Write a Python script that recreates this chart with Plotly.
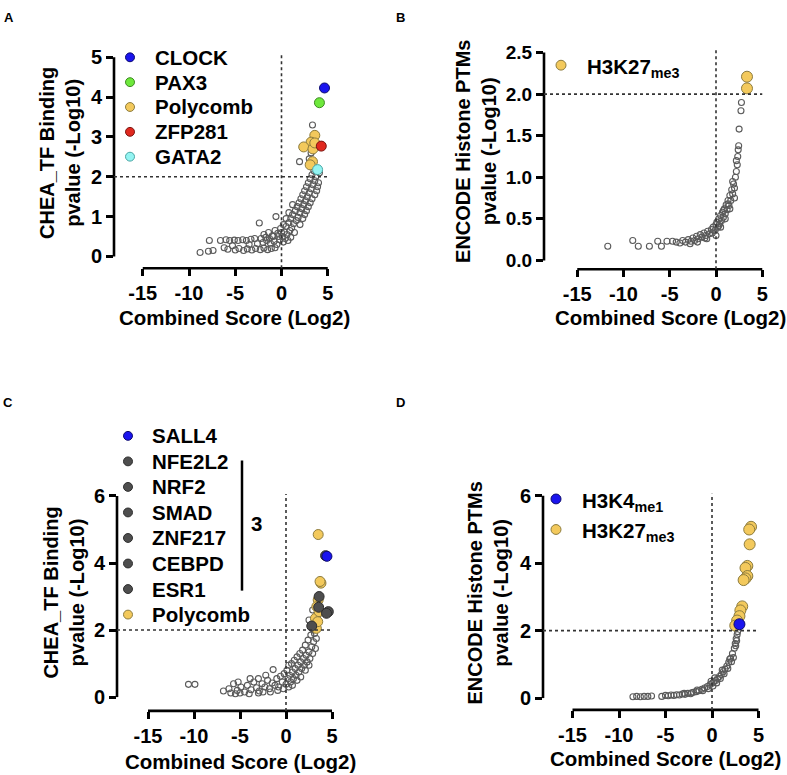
import plotly.graph_objects as go

W, H = 787, 775
FONT = "Liberation Sans, Arial, Helvetica, sans-serif"

# ---------------- DATA ----------------
# Panel A : CHEA TF binding
a_grey_x = [-8.8, -7.9, -7.4, -7.8, -6.6, -6.0, -5.6, -5.1, -4.7, -4.2, -3.8, -3.3, -2.9,
            -6.2, -5.8, -5.3, -5.0, -4.6, -4.1, -3.7, -3.2, -2.8, -2.3, -1.9, -1.5, -1.1, -0.7,
            -3.5, -2.6, -2.0, -1.6, -1.2, -0.8, -0.5, -0.2,
            -2.4, -0.6, -1.9, -1.4, -1.0, -0.7, -0.4, -0.1, 0.1, 0.2,
            -2.2, -1.7, -1.3, -0.9, -0.3,
            0.3, 0.5, 0.6, 0.8, 0.9, 1.0, 1.1, 1.2, 1.3, 1.4, 1.5, 1.6, 1.7, 1.8, 1.9, 2.0, 2.0,
            2.1, 2.2, 2.3, 2.3, 2.4, 2.5, 2.5, 2.6, 2.7, 2.7, 2.8, 2.9, 2.9, 3.0, 3.1, 3.1, 3.2,
            3.3, 3.3, 3.4, 3.5, 3.6, 3.6, 3.7, 3.8, 3.9, 4.0, 4.1,
            0.4, 0.7, 1.0, 0.0, 0.2, 0.5, 0.8, 1.2,
            1.95, 3.35, 3.0, 3.2]
a_grey_y = [0.10, 0.13, 0.15, 0.40, 0.40, 0.42, 0.40, 0.41, 0.40, 0.42, 0.40, 0.43, 0.45,
            0.22, 0.18, 0.27, 0.16, 0.20, 0.15, 0.19, 0.16, 0.20, 0.17, 0.21, 0.17, 0.20, 0.22,
            0.30, 0.32, 0.35, 0.40, 0.33, 0.38, 0.30, 0.42,
            0.84, 1.00, 0.55, 0.60, 0.52, 0.65, 0.58, 0.70, 0.50, 0.36,
            0.45, 0.48, 0.45, 0.50, 0.50,
            0.62, 0.75, 0.55, 0.85, 0.65, 0.95, 0.72, 1.05, 0.82, 0.60, 1.15, 0.90, 1.25, 0.98, 1.35, 1.10, 0.80,
            1.45, 1.20, 1.55, 0.95, 1.30, 1.65, 1.05, 1.40, 1.75, 1.15, 1.50, 1.85, 1.25, 1.60, 1.95, 1.35, 1.70,
            2.05, 1.45, 1.80, 2.15, 1.55, 1.90, 2.00, 1.65, 1.75, 1.85, 2.10,
            0.45, 0.40, 0.48, 0.60, 0.80, 0.95, 1.10, 1.30,
            2.38, 3.30, 2.45, 2.60]
a_polycomb_x = [3.6, 3.2, 2.4, 3.4, 3.35, 3.1, 3.6]
a_polycomb_y = [3.04, 2.87, 2.75, 2.70, 2.38, 2.30, 2.85]
a_clock = (4.65, 4.23)
a_pax3 = (4.1, 3.86)
a_zfp281 = (4.3, 2.77)
a_gata2 = (3.9, 2.18)

# Panel B : ENCODE histone PTMs
b_grey_x = [-11.7, -9.0, -8.4, -7.2, -6.3, -5.9, -5.3, -4.7,
            -4.3, -3.9, -3.6, -3.3, -3.0, -2.7, -2.5, -2.3, -2.1, -1.9, -1.7, -1.5, -1.3, -1.1,
            -0.9, -0.7, -0.5, -0.3, -0.1, 0.0, 0.1, 0.2, 0.3, 0.4, 0.5, 0.6, 0.7, 0.8, 0.9, 1.0,
            1.1, 1.2, 1.3, 1.4, 1.5, 1.6, 1.7, 1.8, 1.9, 2.0, 2.1, 2.2, 2.3, 2.35, 2.4, 2.45,
            2.5, 2.7, 2.75,
            -2.8, -1.2, 0.0, -0.4, 0.5, 1.0, 1.5, 2.0, -2.0, -1.0, 0.3, 0.8, 1.3, 1.8, 2.2]
b_grey_y = [0.17, 0.24, 0.17, 0.17, 0.23, 0.17, 0.23, 0.23,
            0.22, 0.21, 0.24, 0.22, 0.25, 0.23, 0.27, 0.24, 0.29, 0.26, 0.31, 0.28, 0.33, 0.30,
            0.35, 0.32, 0.37, 0.40, 0.36, 0.43, 0.46, 0.40, 0.50, 0.44, 0.54, 0.48, 0.58, 0.52, 0.62, 0.56,
            0.67, 0.61, 0.72, 0.66, 0.78, 0.72, 0.85, 0.80, 0.92, 0.87, 1.00, 1.07, 1.15, 1.25, 1.33, 1.38,
            1.58, 1.80, 1.90,
            0.20, 0.27, 0.30, 0.33, 0.40, 0.50, 0.62, 0.75, 0.22, 0.26, 0.42, 0.60, 0.68, 0.95, 1.20]
b_h3k27_x = [3.35, 3.35]
b_h3k27_y = [2.21, 2.07]

# Panel C : CHEA TF binding (second set)
c_grey_x = [-10.6, -9.9, -6.8, -6.2, -5.7, -5.3, -4.9, -4.5, -4.2, -3.8, -3.5, -3.2, -2.9, -2.6,
            -2.3, -2.0, -1.8, -1.5, -1.4, -1.2, -1.0, -0.8, -0.6, -0.4, -0.2, 0.0, 0.1, 0.2, 0.3,
            0.4, 0.5, 0.6, 0.7, 0.8, 0.9, 1.0, 1.1, 1.2, 1.3, 1.4, 1.5, 1.6, 1.7, 1.8, 1.9, 2.0,
            2.1, 2.2, 2.3, 2.4, 2.5, 2.6, 2.7, 2.8, 2.9, 3.0, 3.1, 3.2, 2.5, 2.9, 3.0, 3.3,
            -6.0, -5.5, -5.0, -4.0, -3.0, -2.5, -1.7, -0.9, -0.3, 0.3, -3.9, -3.0, -2.2, -5.2,
            0.7, 1.2, 1.6, 2.1, 2.5]
c_grey_y = [0.38, 0.38, 0.18, 0.25, 0.40, 0.20, 0.30, 0.15, 0.35, 0.22, 0.45, 0.28, 0.18, 0.40,
            0.30, 0.50, 0.25, 0.42, 0.82, 0.35, 0.55, 0.30, 0.62, 0.45, 0.70, 0.38, 0.80, 0.55, 0.95,
            0.65, 0.45, 1.00, 0.75, 0.55, 1.10, 0.85, 0.65, 1.20, 0.95, 0.75, 1.30, 1.05, 0.85, 1.40, 1.15, 0.95,
            1.55, 1.25, 1.05, 1.70, 1.35, 1.15, 1.85, 1.50, 1.30, 1.65, 1.90, 1.45, 2.30, 2.60, 2.00, 1.75,
            0.12, 0.10, 0.12, 0.10, 0.12, 0.15, 0.15, 0.20, 0.25, 0.30, 0.55, 0.55, 0.65, 0.45,
            0.35, 0.50, 0.60, 0.80, 0.95]
c_polycomb_x = [3.5, 3.8, 3.5, 3.35, 3.2, 3.3, 3.7, 3.6, 3.45]
c_polycomb_y = [4.85, 3.40, 2.90, 2.70, 2.35, 2.05, 3.45, 2.55, 2.25]
c_group3_x = [4.3, 3.6, 4.6, 4.4, 3.55, 2.8]
c_group3_y = [4.22, 3.00, 2.55, 2.50, 2.68, 2.12]
c_sall4 = (4.45, 4.20)

# Panel D : ENCODE histone PTMs (second set)
d_grey_x = [-8.5, -8.1, -7.7, -7.3, -6.9, -6.5, -5.4, -5.0, -4.7, -4.4, -4.1, -3.8, -3.5, -3.2,
            -2.9, -2.6, -2.3, -2.0, -1.7, -1.4, -1.1, -0.8, -0.5, -0.2, 0.0, 0.2, 0.4, 0.6, 0.8,
            1.0, 1.2, 1.4, 1.6, 1.8, 2.0, 2.2, 2.4, 2.5, 2.6, 2.7, 2.75,
            -3.0, -2.2, -1.6, -1.0, -0.4, 0.1, 0.5, 0.9, 1.3, 1.7, 2.1, 2.3, 0.3, -0.1, 1.1, 1.9,
            2.55, 2.65]
d_grey_y = [0.04, 0.05, 0.04, 0.05, 0.05, 0.06, 0.05, 0.08, 0.07, 0.09, 0.08, 0.10, 0.09, 0.12,
            0.11, 0.14, 0.13, 0.17, 0.19, 0.22, 0.26, 0.30, 0.34, 0.40, 0.44, 0.49, 0.52, 0.58, 0.64,
            0.70, 0.78, 0.86, 0.95, 1.06, 1.18, 1.32, 1.48, 1.62, 1.76, 1.88, 1.97,
            0.14, 0.16, 0.24, 0.22, 0.28, 0.36, 0.45, 0.58, 0.72, 0.88, 1.08, 1.20, 0.60, 0.50, 0.83, 1.15,
            1.55, 1.70]
d_h3k27_x = [4.2, 4.0, 4.05, 3.8, 3.6, 3.8, 3.6, 3.4, 3.25, 3.05, 2.95, 2.7, 2.5]
d_h3k27_y = [5.08, 5.00, 4.56, 3.92, 3.86, 3.62, 3.55, 3.50, 2.72, 2.60, 2.43, 2.30, 2.15]
d_h3k4 = (2.95, 2.19)

x_ticks = [-15, -10, -5, 0, 5]
x_ticktext = ["-15", "-10", "-5", "0", "5"]
a_yticks = [0, 1, 2, 3, 4, 5]
b_yticks = [0.0, 0.5, 1.0, 1.5, 2.0, 2.5]
cd_yticks = [0, 2, 4, 6]

# colours
GREY_EDGE = "#5a5a5a"
GOLD, GOLD_E = "#f3c95c", "#8d7c3e"
BLUE, BLUE_E = "#1a14ee", "#0c0a70"
GREEN, GREEN_E = "#6ee83c", "#3d8a22"
RED, RED_E = "#e0281e", "#7a1510"
CYAN, CYAN_E = "#93f4f2", "#4aa6a4"
DARK, DARK_E = "#4e4e4e", "#2e2e2e"

# ---------------- LAYOUT GEOMETRY (pixels) ----------------
# (zero px x, px per x unit, y-axis px, right value, zero px y, px per y unit, x-axis px, top value)
geom = {
    1: (281.5, 9.25, 114, 5.6, 251, 40.4, 263, 5.12),
    2: (716.0, 9.25, 544, 5.6, 255, 84.3, 264, 2.53),
    3: (286.0, 9.20, 117, 5.6, 698, 34.0, 712, 6.06),
    4: (712.0, 9.30, 543, 5.6, 699, 34.2, 711, 6.06),
}
ytop = {1: 5, 2: 2.5, 3: 6, 4: 6}

fig = go.Figure()
layout = dict(width=W, height=H, margin=dict(l=0, r=0, t=0, b=0),
              paper_bgcolor="white", plot_bgcolor="white", showlegend=False)
shapes, annotations = [], []

def px(x):
    return x / W

def py(y):
    return 1 - y / H

for i, (x0p, ppx, yax, rv, y0p, ppy, xax, tv) in geom.items():
    xl = (yax - x0p) / ppx
    xr_px = x0p + rv * ppx
    yb = -(xax - y0p) / ppy
    yt_px = y0p - tv * ppy
    sx = "" if i == 1 else str(i)
    yticks = a_yticks if i == 1 else (b_yticks if i == 2 else cd_yticks)
    ytext = [f"{v:.1f}" for v in yticks] if i == 2 else [str(v) for v in yticks]
    layout["xaxis" + sx] = dict(domain=[px(yax), px(xr_px)], range=[xl, rv],
                                anchor="y" + sx, showgrid=False, zeroline=False, showline=False,
                                tickvals=x_ticks, ticktext=x_ticktext, ticks="outside",
                                ticklen=7, tickwidth=2.5, tickcolor="black",
                                tickfont=dict(family=FONT, size=20, color="black", weight="bold"))
    layout["yaxis" + sx] = dict(domain=[py(xax), py(yt_px)], range=[yb, tv],
                                anchor="x" + sx, showgrid=False, zeroline=False, showline=False,
                                tickvals=yticks, ticktext=ytext, ticks="outside",
                                ticklen=7, tickwidth=2.5, tickcolor="black",
                                tickfont=dict(family=FONT, size=19 if i == 2 else 20,
                                              color="black", weight="bold"))
    xr, yr = "x" + sx, "y" + sx
    # axis lines (Prism style, offset)
    shapes.append(dict(type="line", xref=xr + " domain", yref=yr, x0=0, x1=0, y0=0, y1=ytop[i],
                       line=dict(color="black", width=2.6)))
    shapes.append(dict(type="line", xref=xr, yref=yr + " domain", x0=-15, x1=5, y0=0, y1=0,
                       line=dict(color="black", width=2.6)))
    # dotted guides
    shapes.append(dict(type="line", xref=xr, yref=yr + " domain", x0=0, x1=0, y0=0, y1=1,
                       line=dict(color="#333", width=1.6, dash="dot")))
    shapes.append(dict(type="line", xref=xr + " domain", yref=yr, x0=0, x1=(5 - xl) / (rv - xl),
                       y0=2, y1=2, line=dict(color="#333", width=1.6, dash="dot")))

fig.update_layout(**layout)

def grey(xs, ys, sx):
    fig.add_trace(go.Scatter(x=xs, y=ys, mode="markers", xaxis="x" + sx, yaxis="y" + sx,
                             cliponaxis=False,
                             marker=dict(symbol="circle-open", size=6, color=GREY_EDGE,
                                         line=dict(width=1.1, color=GREY_EDGE))))

def col(xs, ys, sx, c, e, size=10):
    fig.add_trace(go.Scatter(x=xs, y=ys, mode="markers", xaxis="x" + sx, yaxis="y" + sx,
                             cliponaxis=False,
                             marker=dict(symbol="circle", size=size, color=c,
                                         line=dict(width=1, color=e))))

# Panel A
grey(a_grey_x, a_grey_y, "")
col(a_polycomb_x, a_polycomb_y, "", GOLD, GOLD_E)
col([a_zfp281[0]], [a_zfp281[1]], "", RED, RED_E)
col([a_gata2[0]], [a_gata2[1]], "", CYAN, CYAN_E)
col([a_pax3[0]], [a_pax3[1]], "", GREEN, GREEN_E)
col([a_clock[0]], [a_clock[1]], "", BLUE, BLUE_E)
# Panel B
grey(b_grey_x, b_grey_y, "2")
col(b_h3k27_x, b_h3k27_y, "2", GOLD, GOLD_E, 11)
# Panel C
grey(c_grey_x, c_grey_y, "3")
col(c_polycomb_x, c_polycomb_y, "3", GOLD, GOLD_E)
col(c_group3_x, c_group3_y, "3", DARK, DARK_E)
col([c_sall4[0]], [c_sall4[1]], "3", BLUE, BLUE_E)
# Panel D
grey(d_grey_x, d_grey_y, "4")
col(d_h3k27_x, d_h3k27_y, "4", GOLD, GOLD_E, 11)
col([d_h3k4[0]], [d_h3k4[1]], "4", BLUE, BLUE_E, 11)

# ---------------- legends / text (pixel placed) ----------------
def ann(text, x, y, size=20.5, xanchor="left", angle=0):
    annotations.append(dict(text=text, x=px(x), y=py(y), xref="paper", yref="paper",
                            xanchor=xanchor, yanchor="middle", showarrow=False, textangle=angle,
                            font=dict(family=FONT, size=size, color="black", weight="bold")))

def dot(cx, cy, c, e, d=10):
    shapes.append(dict(type="circle", xref="paper", yref="paper",
                       x0=px(cx - d / 2), x1=px(cx + d / 2), y0=py(cy + d / 2), y1=py(cy - d / 2),
                       fillcolor=c, line=dict(color=e, width=1)))

a_legend = [("CLOCK", BLUE, BLUE_E), ("PAX3", GREEN, GREEN_E), ("Polycomb", GOLD, GOLD_E),
            ("ZFP281", RED, RED_E), ("GATA2", CYAN, CYAN_E)]
for k, (t, c, e) in enumerate(a_legend):
    yy = 49 + k * 25.2
    dot(130, yy, c, e, 9)
    ann(t, 153, yy)

dot(561, 57, GOLD, GOLD_E, 10)
ann("H3K27<sub>me3</sub>", 585, 60)

c_legend = [("SALL4", BLUE, BLUE_E), ("NFE2L2", DARK, DARK_E), ("NRF2", DARK, DARK_E),
            ("SMAD", DARK, DARK_E), ("ZNF217", DARK, DARK_E), ("CEBPD", DARK, DARK_E),
            ("ESR1", DARK, DARK_E), ("Polycomb", GOLD, GOLD_E)]
for k, (t, c, e) in enumerate(c_legend):
    yy = 433 + k * 25.9
    dot(128, yy, c, e, 9)
    ann(t, 150, yy)
shapes.append(dict(type="line", xref="paper", yref="paper", x0=px(242), x1=px(242),
                   y0=py(458), y1=py(590), line=dict(color="black", width=2.5)))
ann("3", 256, 522, xanchor="center")

dot(556, 497, BLUE, BLUE_E, 10)
ann("H3K4<sub>me1</sub>", 580, 500)
dot(556, 528, GOLD, GOLD_E, 10)
ann("H3K27<sub>me3</sub>", 580, 531)

# axis titles
ann("CHEA_TF Binding<br>pvalue (-Log10)", 60, 146, size=20, xanchor="center", angle=-90)
ann("ENCODE Histone PTMs<br>pvalue (-Log10)", 476, 145, size=20, xanchor="center", angle=-90)
ann("CHEA_TF Binding<br>pvalue (-Log10)", 64, 592, size=20, xanchor="center", angle=-90)
ann("ENCODE Histone PTMs<br>pvalue (-Log10)", 488, 593, size=20, xanchor="center", angle=-90)
ann("Combined Score (Log2)", 235, 313, size=20.5, xanchor="center")
ann("Combined Score (Log2)", 670, 313, size=20.5, xanchor="center")
ann("Combined Score (Log2)", 240, 763, size=20.5, xanchor="center")
ann("Combined Score (Log2)", 665, 760, size=20.5, xanchor="center")

# panel letters
ann("A", 2, 9, size=13)
ann("B", 394, 9, size=13)
ann("C", 1, 399, size=13)
ann("D", 394, 399, size=13)

fig.update_layout(shapes=shapes, annotations=annotations)
fig.write_html(
    "out.html",
    config={"displayModeBar": False},
    post_script=(
        "document.documentElement.style.margin='0';"
        "document.body.style.margin='0';document.body.style.padding='0';"
        "var gd=document.getElementById('{plot_id}');"
        "gd.style.position='fixed';gd.style.left='0px';gd.style.top='0px';"
    ),
)
